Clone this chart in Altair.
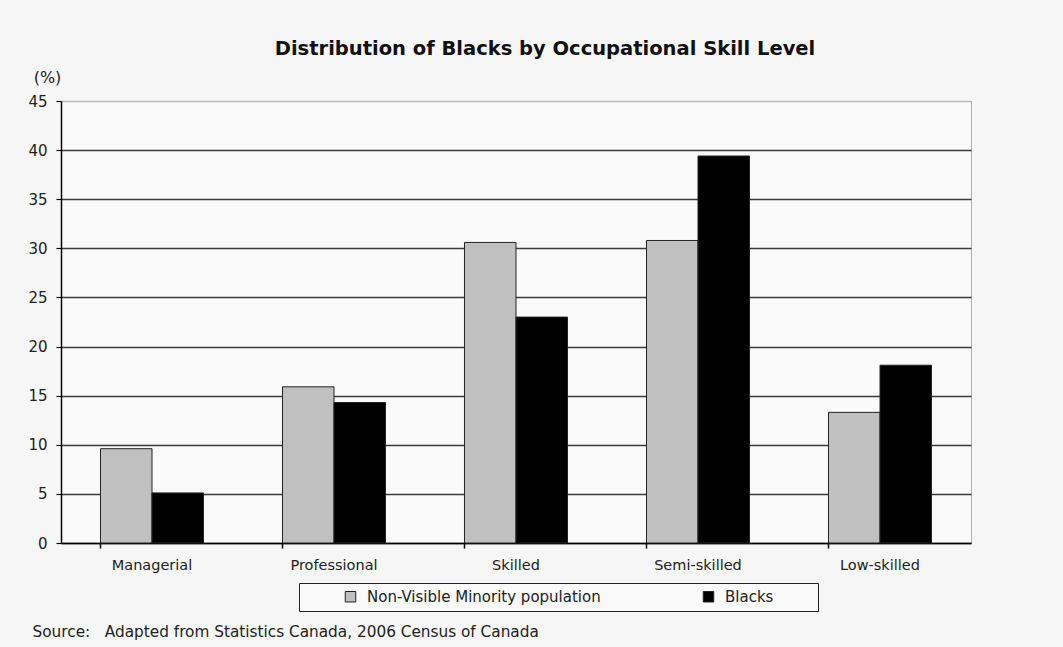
import altair as alt
import pandas as pd

categories = ["Managerial", "Professional", "Skilled", "Semi-skilled", "Low-skilled"]
series = ["Non-Visible Minority population", "Blacks"]
non_visible = [9.6, 15.9, 30.6, 30.8, 13.3]
blacks = [5.1, 14.3, 23.0, 39.4, 18.1]
y_ticks = [0, 5, 10, 15, 20, 25, 30, 35, 40, 45]

rows = []
for c, a, b in zip(categories, non_visible, blacks):
    rows.append({"category": c, "series": series[0], "value": a})
    rows.append({"category": c, "series": series[1], "value": b})
df = pd.DataFrame(rows)

FONT = "DejaVu Sans"
NBSP = "\u00a0"
ZW = "\u200b"

chart = alt.Chart(df).mark_bar(stroke="#222222", strokeWidth=1).encode(
    x=alt.X(
        "category:N",
        sort=categories,
        scale=alt.Scale(paddingInner=0.434, paddingOuter=0.217),
        axis=alt.Axis(
            title="Source:" + NBSP * 3 + "Adapted from Statistics Canada, 2006 Census of Canada",
            titleX=-29, titleY=88, titleAlign="left", titleBaseline="middle",
            titleFontWeight="normal", titleFontSize=15.3, titleColor="#222222", titleFont=FONT,
            titleLimit=800,
            labelAngle=0, labelFontSize=14.5, labelColor="#222222", labelFont=FONT,
            labelPadding=10, tickSize=5, tickColor="#000000", tickWidth=1.5,
            domainColor="#000000", domainWidth=1.5, bandPosition=0, grid=False,
        ),
    ),
    xOffset=alt.XOffset("series:N", sort=series, scale=alt.Scale(paddingInner=0, paddingOuter=0)),
    y=alt.Y(
        "value:Q",
        scale=alt.Scale(domain=[0, 45], nice=False),
        axis=alt.Axis(
            values=y_ticks, title="(%)", titleAngle=0, titleX=-14, titleY=-24,
            titleAlign="center", titleBaseline="middle", titleFontWeight="normal",
            titleFontSize=16, titleColor="#222222", titleFont=FONT,
            labelFontSize=15, labelColor="#222222", labelFont=FONT, labelPadding=9,
            tickSize=5, tickColor="#000000", tickWidth=1.2,
            domainColor="#000000", domainWidth=1.5,
            grid=True, gridWidth=1.4,
            gridColor=alt.condition("datum.value === 45", alt.value("#bbbbbb"), alt.value("#3a3a3a")),
        ),
    ),
    color=alt.Color(
        "series:N",
        sort=series,
        scale=alt.Scale(domain=series, range=["#c0c0c0", "#000000"]),
        legend=alt.Legend(
            title=" ", titleOrient="left", titlePadding=38, titleFontSize=2,
            orient="none", legendX=238, legendY=482, direction="horizontal",
            columns=2, columnPadding=100, labelOffset=9, labelLimit=500,
            symbolType="square", symbolSize=110, symbolStrokeColor="#222222", symbolStrokeWidth=1,
            labelFontSize=15, labelFont=FONT, labelColor="#222222",
            strokeColor="#222222", padding=6, fillColor="#f9f9f9",
            labelExpr="datum.label == 'Blacks' ? 'Blacks" + NBSP * 8 + ZW + "' : datum.label",
        ),
    ),
).properties(
    width=910,
    height=442,
    autosize=alt.AutoSizeParams(type="none"),
    padding={"left": 61, "top": 101, "right": 92, "bottom": 104},
    title=alt.TitleParams(
        "Distribution of Blacks by Occupational Skill Level",
        font=FONT, fontSize=19.5, fontWeight="bold", color="#111111",
        anchor="middle", dx=29, offset=10,
    ),
).configure(background="#f6f6f6").configure_view(fill="#fafafa", stroke="#b0b0b0")

chart.save("out.html", embed_options={"renderer": "svg", "actions": False})
